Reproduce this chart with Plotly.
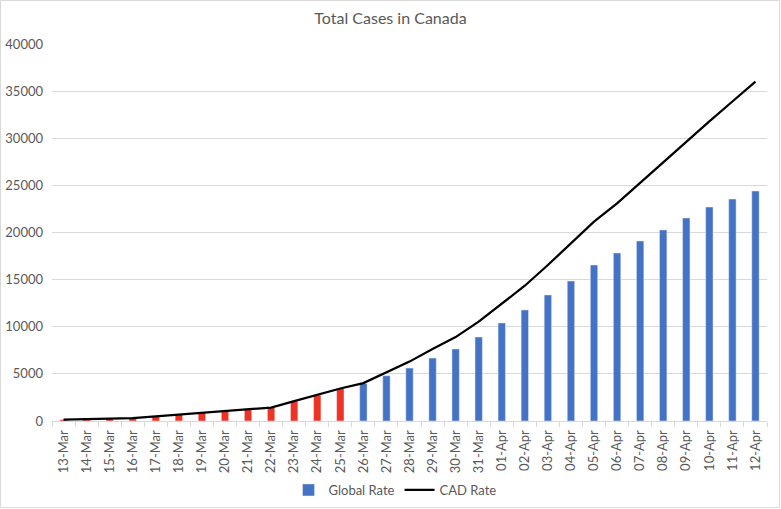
import plotly.graph_objects as go

dates = ["13-Mar","14-Mar","15-Mar","16-Mar","17-Mar","18-Mar","19-Mar","20-Mar","21-Mar","22-Mar",
         "23-Mar","24-Mar","25-Mar","26-Mar","27-Mar","28-Mar","29-Mar","30-Mar","31-Mar",
         "01-Apr","02-Apr","03-Apr","04-Apr","05-Apr","06-Apr","07-Apr","08-Apr","09-Apr","10-Apr","11-Apr","12-Apr"]

global_rate = [150, 180, 250, 300, 500, 700, 900, 1100, 1300, 1430, 2100, 2750, 3450,
               3980, 4800, 5620, 6680, 7640, 8910, 10400, 11780, 13370, 14850, 16550,
               17820, 19100, 20270, 21540, 22700, 23550, 24400]

cad_rate = [150, 180, 260, 300, 500, 700, 900, 1100, 1300, 1430, 2100, 2800, 3450,
            4020, 5150, 6300, 7650, 8900, 10550, 12450, 14350, 16550, 18850, 21150,
            23100, 25300, 27400, 29700, 31800, 33900, 36000]

n_red = 13  # first 13 bars drawn in red

FONT = "Lato, Open Sans, sans-serif"
GREY = "#595959"

fig = go.Figure()
fig.add_trace(go.Bar(x=dates[:n_red], y=global_rate[:n_red], marker_color="#EE3224",
                     width=0.32, showlegend=False, hoverinfo="x+y"))
fig.add_trace(go.Bar(x=dates[n_red:], y=global_rate[n_red:], marker_color="#4472C4",
                     width=0.32, name="Global Rate"))
fig.add_trace(go.Scatter(x=dates, y=cad_rate, mode="lines", name="CAD Rate",
                         line=dict(color="black", width=2.25)))

W, H = 781, 509
ml, mr, mt, mb = 52, 14, 44, 88
pw, ph = W - ml - mr, H - mt - mb

fig.update_layout(
    width=W, height=H,
    margin=dict(l=ml, r=mr, t=mt, b=mb, autoexpand=False),
    paper_bgcolor="white", plot_bgcolor="white",
    barmode="overlay",
    title=dict(text="Total Cases in Canada", x=0.5, xanchor="center", y=1 - 18 / H, yanchor="middle",
               font=dict(family=FONT, size=16, color=GREY)),
    font=dict(family=FONT, size=13, color=GREY),
    xaxis=dict(type="category", categoryorder="array", categoryarray=dates, automargin=False,
               tickangle=-90, tickson="boundaries", ticks="outside", ticklen=5,
               tickcolor="#d9d9d9", showline=True, linecolor="#d9d9d9", linewidth=1,
               showgrid=False, tickfont=dict(size=13, color=GREY), ticklabelstandoff=3),
    yaxis=dict(range=[0, 40000], dtick=5000, showgrid=True, gridcolor="#d9d9d9", gridwidth=1,
               zeroline=False, showline=False, tickformat="d", ticks="", automargin=False,
               tickfont=dict(size=13, color=GREY), ticklabelstandoff=8),
    legend=dict(orientation="h", x=(395 - ml) / pw, xanchor="center",
                y=-(490 - (H - mb)) / ph, yanchor="middle",
                font=dict(size=13, color=GREY), traceorder="normal", itemwidth=30),
    shapes=[dict(type="rect", xref="paper", yref="paper",
                 x0=-(ml - 0.5) / pw, x1=1 + (mr - 1.5) / pw,
                 y0=-(mb - 1.5) / ph, y1=1 + (mt - 0.5) / ph,
                 line=dict(color="#d9d9d9", width=1), layer="below")],
)

fig.write_html("out.html")
